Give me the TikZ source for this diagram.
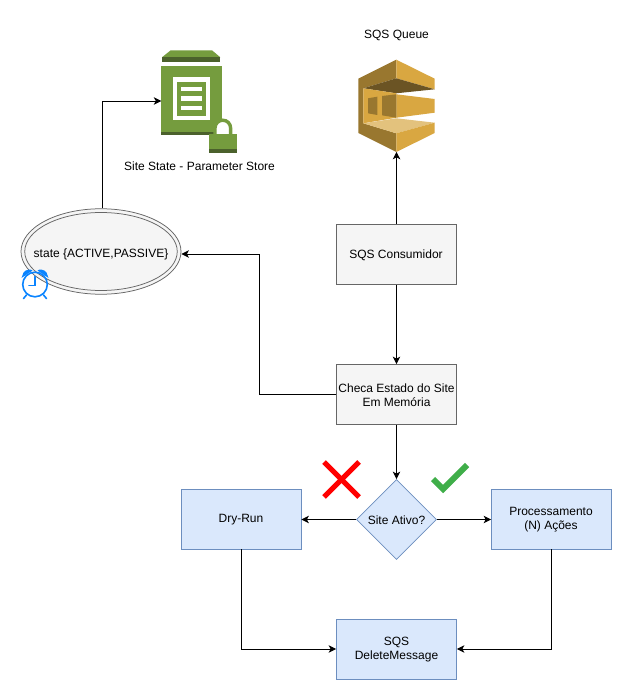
\documentclass[tikz,border=0pt]{standalone}
\usepackage{fontspec}
\setmainfont{Liberation Sans}
\usetikzlibrary{arrows.meta,shapes.geometric}
\definecolor{grayfill}{HTML}{F5F5F5}
\definecolor{grayline}{HTML}{666666}
\definecolor{bluefill}{HTML}{DAE8FC}
\definecolor{blueline}{HTML}{6C8EBF}
\definecolor{psgreen}{HTML}{759C3E}
\definecolor{psdark}{HTML}{4B612C}
\definecolor{sqsmid}{HTML}{D9A741}
\definecolor{sqsdark}{HTML}{876929}
\definecolor{sqsside}{HTML}{99772F}
\definecolor{sqsdeep}{HTML}{6B5424}
\definecolor{sqslight}{HTML}{E3C27D}
\definecolor{clockblue}{HTML}{0A84FF}
\definecolor{okgreen}{HTML}{3FAE49}
\tikzset{
  txt/.style={font=\fontsize{12}{14}\selectfont,align=center,text=black,inner sep=0pt},
  graybox/.style={draw=grayline,fill=grayfill,minimum width=120pt,minimum height=60pt,line width=.75pt,inner sep=0pt},
  bluebox/.style={draw=blueline,fill=bluefill,minimum width=120pt,minimum height=60pt,line width=.75pt,inner sep=0pt},
  decision/.style={diamond,aspect=1,draw=blueline,fill=bluefill,minimum width=80pt,minimum height=80pt,line width=.75pt,inner sep=0pt},
  stateshape/.style={ellipse,draw=grayline,fill=grayfill,line width=.75pt,inner sep=0pt},
  link/.style={draw=black,line width=.9pt,-{Stealth[length=7.5pt,width=7.5pt,inset=2pt]}},
  anchorbox/.style={inner sep=0pt,outer sep=0pt},
}
\begin{document}
\begin{tikzpicture}[x=1pt,y=-1pt]
\useasboundingbox[fill=white] (0,0) rectangle (632,700);

% Parameter Store icon
\node[anchorbox,minimum width=60pt,minimum height=69pt] (param) at (191.3,100.5) {};
\fill[psgreen] (162,57.3)--(170.7,50.3)--(212,50.3)--(220.3,57.3)--cycle;
\fill[psdark] (162,57.3) rectangle (220.3,61.7);
\fill[psgreen] (161.3,66) rectangle (221.7,135);
\fill[psdark] (161.3,131.7) rectangle (221.7,135);
\fill[white] (173,77.3) rectangle (210,120);
\fill[psgreen] (177.3,81.7) rectangle (205.7,115.7);
\fill[white] (181.3,87) rectangle (202,91.3);
\fill[white] (181.3,96.3) rectangle (202,100.7);
\fill[white] (181.3,105.7) rectangle (202,110.3);
% lock
\fill[white] (215,135) -- (215,128) arc[start angle=180,end angle=360,radius=7.8] -- (230.6,135) -- cycle;
\draw[psgreen,line width=3.4pt] (215,135) -- (215,128) arc[start angle=180,end angle=360,radius=7.8] -- (230.6,135);
\fill[psgreen] (209,134) rectangle (236.7,149.3);
\fill[psdark] (209,149.3) rectangle (236.7,152.7);

% SQS icon
\node[anchorbox,minimum width=76pt,minimum height=92pt] (sqs) at (396.5,105.8) {};
\fill[sqsside] (396.3,59.7)--(358.3,78.7)--(358.3,133)--(396.3,152)--(396.3,133.3)--(363.3,123.3)--(363.3,88.3)--(396.3,78.3)--cycle;
\fill[sqsmid] (396.3,59.7)--(434.7,78.7)--(434.7,89.3)--(396.3,78.3)--cycle;
\fill[sqsdeep] (363.3,88.3)--(396.3,78.3)--(434.7,89.3)--(396.3,93.3)--cycle;
\fill[sqsmid] (363.3,88.3)--(396.3,93.3)--(396.3,117.7)--(363.3,123.3)--cycle;
\fill[sqsmid] (396.3,94.3)--(434.7,99)--(434.7,112.7)--(396.3,117.7)--cycle;
\fill[sqsside] (368,98.3)--(377.3,96.7)--(377.3,115)--(368,113.3)--cycle;
\fill[sqsside] (382,96)--(396.3,94.3)--(396.3,117.7)--(382,115.3)--cycle;
\fill[sqslight] (363.3,123.3)--(396.3,118.3)--(434.7,122.7)--(396.3,133.3)--cycle;
\fill[sqsmid] (396.3,133.3)--(434.7,122.7)--(434.7,133)--(396.3,152)--cycle;

% Nodes
\node[txt] (sqslabel) at (396.5,35.5) {SQS Queue};
\node[txt] (paramlabel) at (199.5,166.5) {Site State - Parameter Store};
\node[stateshape,minimum width=160pt,minimum height=85.5pt] (state) at (101,251.5) {};
\node[stateshape,minimum width=152.5pt,minimum height=78pt] (stateinner) at (101,251.5) {};
\node[txt] (statelabel) at (101,254) {state \{ACTIVE,PASSIVE\}};
\node[graybox] (consumer) at (396.5,254.5) {};
\node[txt] at (396,255) {SQS Consumidor};
\node[graybox] (check) at (396.5,394.5) {};
\node[txt] at (396.5,395) {Checa Estado do Site\\Em Memória};
\node[decision] (active) at (396.5,519.5) {};
\node[txt] at (396.5,520) {Site Ativo?};
\node[bluebox] (dry) at (241,519) {};
\node[txt] at (241,520) {Dry-Run};
\node[bluebox] (proc) at (551.5,519) {};
\node[txt] at (551,520) {Processamento\\(N) Ações};
\node[bluebox] (delete) at (396.5,649) {};
\node[txt] at (396.5,650) {SQS\\DeleteMessage};

% Connectors
\draw[link] (consumer.north) -- (sqs.south -| consumer.north);
\draw[link] (consumer.south) -- (check.north);
\draw[link] (check.west) -- (259,394.5) -- (259,254) -- (state.east |- 0,254);
\draw[link] (state.north -| 102,0) -- (102,101) -- (param.west |- 0,101);
\draw[link] (check.south) -- (active.north);
\draw[link] (active.west) -- (dry.east |- active.west);
\draw[link] (active.east) -- (proc.west |- active.east);
\draw[link] (dry.south) -- (241,649) -- (delete.west);
\draw[link] (proc.south) -- (551.5,649) -- (delete.east);

% Clock
\begin{scope}[clockblue,line width=1.6pt]
\draw (35,284.5) circle[radius=12.3];
\draw[line cap=round] (35,276.5) -- (35,285.5) -- (29,285.5);
\fill (21.5,278) -- (23.5,272.5) .. controls (26,269) and (31,269) .. (32.5,270.5) -- cycle;
\fill (48.5,278) -- (46.5,272.5) .. controls (44,269) and (39,269) .. (37.5,270.5) -- cycle;
\draw[line cap=round] (26.5,295) -- (23.5,298.5);
\draw[line cap=round] (43.5,295) -- (46.5,298.5);
\end{scope}

% Marks
\draw[red,line width=5pt] (324,462) -- (359,497);
\draw[red,line width=5pt] (359,462) -- (324,497);
\draw[okgreen,line width=6pt] (433,479) -- (443,489) -- (467,465);
\end{tikzpicture}
\end{document}
